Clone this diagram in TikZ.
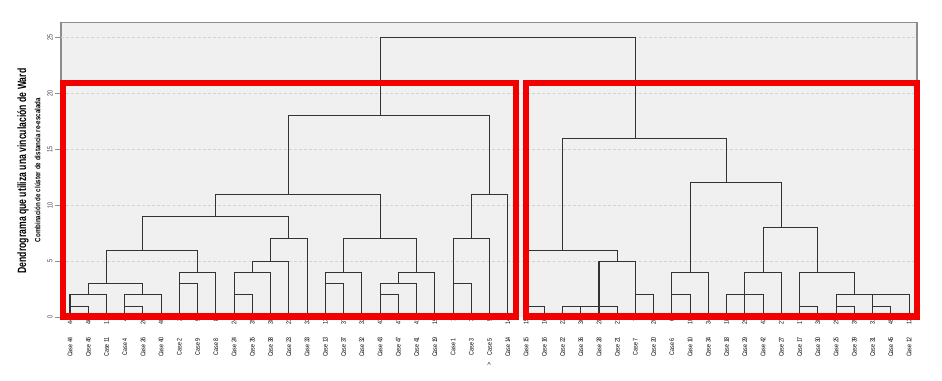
\documentclass[tikz,border=0pt]{standalone}
\usepackage{fontspec}
\setmainfont{Liberation Sans}
\newfontfamily\narrowfont[FakeStretch=0.72]{Liberation Sans}
\newfontfamily\casefont[FakeStretch=0.8]{Liberation Sans}
\newfontfamily\subfont[FakeStretch=0.82]{Liberation Sans}

\definecolor{plotbg}{HTML}{F0F0F0}
\definecolor{gridgray}{HTML}{D2D2D2}
\definecolor{framegray}{HTML}{8C8C8C}
\definecolor{linkgray}{HTML}{333333}
\definecolor{boxred}{HTML}{F20000}

\tikzset{
  link/.style={linkgray, line width=0.8pt},
  gridline/.style={gridgray, dash pattern=on 2.2pt off 1.6pt, line width=0.6pt},
  caselbl/.style={rotate=90, inner sep=0pt, font=\casefont\fontsize{5}{6}\selectfont},
  ticklbl/.style={rotate=90, inner sep=0pt, text=black!75, font=\narrowfont\fontsize{5.6}{6}\selectfont},
  redbox/.style={boxred, line width=4.6pt},
}

\begin{document}
\begin{tikzpicture}[x=0.75pt, y=-0.75pt]
  \useasboundingbox (0,0) rectangle (942,380);
  \fill[white] (0,0) rectangle (942,380);

  % plot area
  \fill[plotbg] (61,22.7) rectangle (917,317.3);
  \draw[framegray, line width=0.8pt] (61,317.3) -- (61,22.7) -- (917,22.7) -- (917,317.3);

  % axis titles
  \node[rotate=90, font=\narrowfont\bfseries\fontsize{9}{10}\selectfont] (ytitle) at (23,171)
    {Dendrograma que utiliza una vinculación de Ward};
  \node[rotate=90, font=\subfont\bfseries\fontsize{5.7}{6}\selectfont] (ysub) at (37.5,170)
    {Combinación de clúster de distancia re-escalada};

  % dendrogram: x = leaf index, y = rescaled distance
  \begin{scope}[shift={(70,317.3)}, x=13.68pt, y=8.4pt]
    \foreach \d in {0,5,...,25} {
      \coordinate (g\d) at (-0.49,\d);
      \draw[framegray, line width=0.6pt] (g\d) -- ++(-0.33,0);
      \node[ticklbl] (y\d) at (-1.1,\d) {\d};
    }
    \foreach \d in {5,10,...,25}
      \draw[gridline] (g\d) -- (46.44,\d);

    % leaves
    \foreach \n [count=\i from 0] in {44,46,11,4,26,40,2,9,8,24,35,38,23,33,13,37,32,43,47,41,19,1,3,5,14,
                                      15,16,22,36,28,21,7,20,6,10,34,18,29,42,27,17,30,25,39,31,45,12} {
      \coordinate (c\n) at (\i,0);
      \node[caselbl] (t\n) at (\i,-2.65) {Case \n};
    }
    \begin{scope}
      \clip (-1,-0.2) rectangle (47,-0.8);
      \foreach \n [count=\i from 0] in {44,46,11,4,26,40,2,9,8,24,35,38,23,33,13,37,32,43,47,41,19,1,3,5,14,
                                        15,16,22,36,28,21,7,20,6,10,34,18,29,42,27,17,30,25,39,31,45,12}
        \node[caselbl, anchor=east] (k\n) at (\i,-0.1) {\n};
    \end{scope}
    \node[caselbl] (mark5) at (23,-4.17) {>};

    % merges: name/left/right/height/position
    \foreach \m/\a/\b/\h/\p in {
        m1/c44/c46/1/0, m2/m1/c11/2/1, m3/c4/c26/1/3, m4/m3/c40/2/4, m5/m2/m4/3/2,
        m6/c2/c9/3/6, m7/m6/c8/4/7, m8/m5/m7/6/4,
        m9/c24/c35/2/9, m10/m9/c38/4/10, m11/m10/c23/5/11, m12/m11/c33/7/12,
        m13/m8/m12/9/8,
        m14/c13/c37/3/14, m15/m14/c32/4/15, m16/c43/c47/2/17, m17/m16/c41/3/18,
        m18/m17/c19/4/19, m19/m15/m18/7/17,
        m20/m13/m19/11/12,
        m21/c1/c3/3/21, m22/m21/c5/7/22, m23/m22/c14/11/23,
        m24/m20/m23/18/17,
        n1/c15/c16/1/25, n2/c22/c36/1/27, n3/n2/c28/1/28, n4/n3/c21/1/29,
        n5/c7/c20/2/31, n6/n4/n5/5/30, n7/n1/n6/6/27,
        n8/c6/c10/2/33, n9/n8/c34/4/34,
        n10/c18/c29/2/36, n11/n10/c42/2/37, n12/n11/c27/4/38,
        n13/c17/c30/1/40, n14/c25/c39/1/42, n15/c31/c45/1/44, n16/n15/c12/2/45,
        n17/n14/n16/2/43, n18/n13/n17/4/41,
        n19/n12/n18/8/39, n20/n9/n19/12/36, n21/n7/n20/16/31,
        root/m24/n21/25/24} {
      \coordinate (\m) at (\p,\h);
      \draw[link] (\a) |- (\m) -| (\b);
    }
  \end{scope}

  % highlighted groups
  \draw[redbox] (63.3,83) rectangle (516,316.5);
  \draw[redbox] (526,83) rectangle (916.7,316.5);
\end{tikzpicture}
\end{document}
